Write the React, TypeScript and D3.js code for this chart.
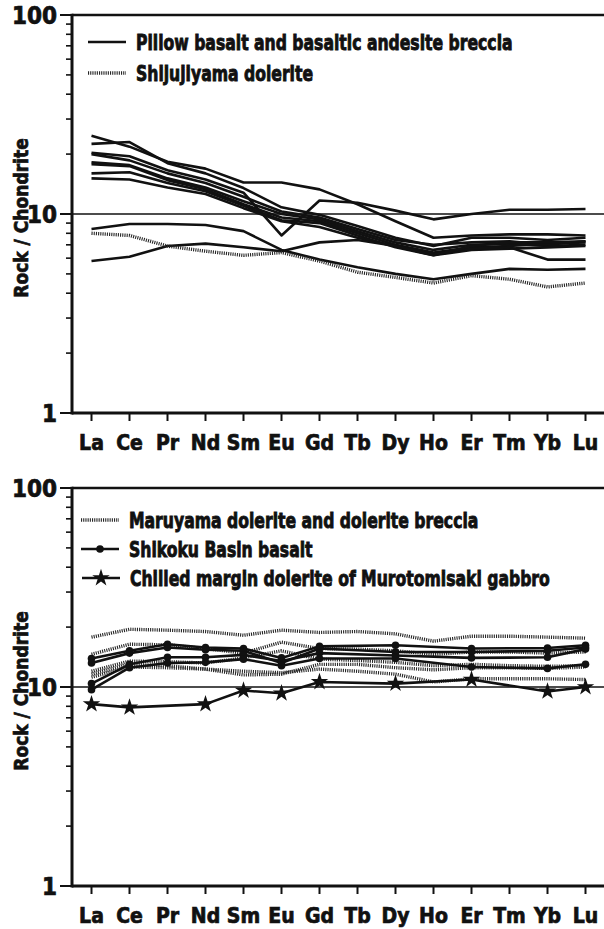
import React from "react";
import * as d3 from "d3";

const ELEMENTS = ["La", "Ce", "Pr", "Nd", "Sm", "Eu", "Gd", "Tb", "Dy", "Ho", "Er", "Tm", "Yb", "Lu"];
const Y_TICKS = [1, 10, 100];

// Top panel: pillow basalt and basaltic andesite breccia (solid)
const pillow1 = [24.7, 21.8, 18.3, 16.9, 14.4, 14.4, 13.3, 11.2, 9.2, 7.6, 7.8, 7.9, 7.9, 7.8];
const pillow2 = [22.5, 23.0, 18.0, 16.0, 13.5, 10.8, 9.9, 8.7, 7.6, 6.9, 7.6, 7.6, 7.4, 7.6];
const pillow3 = [20.3, 19.5, 16.6, 14.9, 12.8, 7.8, 11.7, 11.4, 10.4, 9.4, 10.0, 10.5, 10.5, 10.6];
const pillow4 = [20.0, 18.6, 16.0, 14.3, 12.2, 10.3, 9.6, 8.4, 7.4, 7.0, 7.2, 7.3, 7.0, 7.3];
const pillow5 = [18.2, 17.6, 15.1, 13.6, 11.6, 10.0, 9.4, 8.2, 7.2, 6.6, 7.0, 7.1, 6.9, 7.0];
const pillow6 = [17.8, 17.4, 14.8, 13.3, 11.2, 9.6, 9.2, 8.0, 7.0, 6.4, 6.8, 6.9, 7.1, 7.2];
const pillow7 = [16.0, 16.2, 14.3, 13.0, 11.0, 9.3, 9.0, 7.8, 6.8, 6.2, 6.6, 6.7, 6.8, 6.9];
const pillow8 = [15.1, 14.9, 13.6, 12.6, 10.7, 9.2, 8.6, 7.6, 6.9, 6.3, 6.7, 6.8, 5.9, 5.9];
const pillow9 = [5.8, 6.1, 6.9, 7.1, 6.8, 6.5, 7.2, 7.4, 6.9, 6.2, 6.9, 7.2, 7.2, 7.3];
const pillow10 = [8.4, 8.9, 8.9, 8.8, 8.2, 6.6, 5.9, 5.4, 5.0, 4.7, 5.0, 5.3, 5.25, 5.3];
// Shijujiyama dolerite (dotted)
const shijujiyama = [8.0, 7.8, 6.9, 6.5, 6.2, 6.4, 5.8, 5.1, 4.8, 4.5, 4.9, 4.7, 4.3, 4.5];

// Bottom panel: Maruyama dolerite and dolerite breccia (dotted)
const maruyama1 = [17.8, 19.5, 19.3, 19.0, 18.2, 19.3, 18.8, 19.0, 18.5, 17.0, 18.0, 18.0, 17.8, 17.6];
const maruyama2 = [14.6, 16.4, 16.3, 15.6, 14.8, 16.8, 15.6, 15.5, 15.2, 14.6, 15.0, 15.0, 14.8, 15.0];
const maruyama3 = [12.0, 13.5, 13.4, 13.2, 14.0, 15.2, 13.8, 13.6, 13.3, 12.8, 13.0, 12.8, 12.7, 12.8];
const maruyama4 = [11.6, 13.0, 12.8, 12.3, 11.5, 11.6, 13.0, 13.0, 12.5, 12.2, 12.5, 12.5, 12.4, 12.6];
const maruyama5 = [11.2, 12.6, 12.5, 12.3, 12.0, 11.8, 12.3, 12.0, 11.6, 10.6, 11.0, 11.0, 11.0, 10.9];
// Shikoku Basin basalt (solid with dots), null = not analysed
const shikoku1 = [13.9, 15.2, 16.4, 15.8, 15.6, 14.0, 16.0, null, 16.2, null, 15.6, null, 15.7, 16.2];
const shikoku2 = [13.2, 14.8, 15.8, 15.4, 15.2, 13.2, 15.6, null, 15.0, null, 15.0, null, 15.2, 15.8];
const shikoku3 = [10.4, 13.0, 14.1, 14.1, 14.5, 13.5, 14.8, null, 14.4, null, 14.0, null, 14.1, 15.5];
const shikoku4 = [9.7, 12.5, 13.2, 13.3, 13.8, 12.8, 13.9, null, 13.9, null, 12.6, null, 12.4, 13.0];
// Chilled margin dolerite of Murotomisaki gabbro (solid with stars)
const chilled = [8.2, 7.9, null, 8.2, 9.6, 9.3, 10.6, null, 10.4, null, 10.9, null, 9.5, 10.0];

const TOP_LEGEND = ["Pillow basalt and basaltic andesite breccia", "Shijujiyama dolerite"];
const BOTTOM_LEGEND = [
  "Maruyama dolerite and dolerite breccia",
  "Shikoku Basin basalt",
  "Chilled margin dolerite of Murotomisaki gabbro",
];
const Y_TITLE = "Rock / Chondrite";

const FONT = "'Liberation Sans Narrow', 'DejaVu Sans Condensed', 'Arial Narrow', 'Liberation Sans', sans-serif";
const INK = "#111";
const W = 604;
const H = 929;
const LEFT = 72;
const RIGHT = 603;
const PLOT_H = 398;

type Series = { values: (number | null)[]; style: "solid" | "dotted"; marker?: "dot" | "star" };
type LegendItem = { label: string; style: "solid" | "dotted"; marker?: "dot" | "star"; y: number; x: number };

const x = d3.scalePoint<string>().domain(ELEMENTS).range([91.5, 585.5]);
const starPath = d3.symbol().type(d3.symbolStar).size(95)() as string;

const boldText = {
  fontFamily: FONT,
  fontWeight: "bold" as const,
  fill: INK,
  stroke: INK,
  strokeWidth: 0.7,
};

function strokeFor(style: "solid" | "dotted") {
  return style === "dotted"
    ? { stroke: "#262626", strokeWidth: 3.4, strokeDasharray: "1.1 1.1" }
    : { stroke: INK, strokeWidth: 2.6 };
}

function Panel({ top, series, legend }: { top: number; series: Series[]; legend: LegendItem[] }) {
  const y = d3.scaleLog().domain([1, 100]).range([top + PLOT_H, top]);
  const minor: number[] = [];
  [1, 10].forEach((d) => {
    for (let k = 2; k <= 9; k++) minor.push(d * k);
  });
  const line = d3
    .line<{ e: string; v: number }>()
    .x((d) => x(d.e) as number)
    .y((d) => y(d.v));
  const bottom = top + PLOT_H;
  return (
    <g>
      <line x1={LEFT} x2={RIGHT + 1} y1={y(10)} y2={y(10)} stroke={INK} strokeWidth={1.6} />
      {series.map((s, i) => {
        const pts = ELEMENTS.map((e, j) => ({ e, v: s.values[j] as number })).filter((p) => p.v != null);
        return (
          <g key={i}>
            <path d={line(pts) as string} fill="none" strokeLinejoin="round" {...strokeFor(s.style)} />
            {s.marker === "dot" &&
              pts.map((p, k) => <circle key={k} cx={x(p.e)} cy={y(p.v)} r={3.8} fill={INK} />)}
            {s.marker === "star" &&
              pts.map((p, k) => (
                <path key={k} d={starPath} transform={`translate(${x(p.e)},${y(p.v)})`} fill={INK} />
              ))}
          </g>
        );
      })}
      <line x1={LEFT} x2={RIGHT + 1} y1={top} y2={top} stroke={INK} strokeWidth={2.6} />
      <line x1={LEFT} x2={LEFT} y1={top - 1.3} y2={bottom + 1.5} stroke={INK} strokeWidth={3} />
      <line x1={LEFT} x2={RIGHT + 1} y1={bottom} y2={bottom} stroke={INK} strokeWidth={3} />
      {Y_TICKS.map((t) => (
        <g key={t}>
          <line x1={60} x2={LEFT} y1={y(t)} y2={y(t)} stroke={INK} strokeWidth={2} />
          <text x={57} y={y(t) + 8.5} textAnchor="end" fontSize={24} {...boldText}>
            {t}
          </text>
        </g>
      ))}
      {minor.map((t) => (
        <line key={t} x1={66} x2={LEFT} y1={y(t)} y2={y(t)} stroke={INK} strokeWidth={1.6} />
      ))}
      {ELEMENTS.map((e) => (
        <g key={e}>
          <line x1={x(e)} x2={x(e)} y1={bottom} y2={bottom + 8} stroke={INK} strokeWidth={2} />
          <text x={x(e)} y={bottom + 37} textAnchor="middle" fontSize={21} {...boldText}>
            {e}
          </text>
        </g>
      ))}
      <text
        transform={`translate(28,${y(10) + 4}) rotate(-90)`}
        textAnchor="middle"
        fontSize={19}
        {...boldText}
      >
        {Y_TITLE}
      </text>
      {legend.map((l, i) => (
        <g key={i}>
          <line x1={l.x - 48} x2={l.x - 10} y1={l.y} y2={l.y} {...strokeFor(l.style)} />
          {l.marker === "dot" && <circle cx={l.x - 29} cy={l.y} r={3.8} fill={INK} />}
          {l.marker === "star" && <path d={starPath} transform={`translate(${l.x - 29},${l.y})`} fill={INK} />}
          <text transform={`translate(${l.x},${l.y + 7.5}) scale(1,1.22)`} fontSize={17.4} {...boldText}>
            {l.label}
          </text>
        </g>
      ))}
    </g>
  );
}

export default function App() {
  const topSeries: Series[] = [
    ...[pillow1, pillow2, pillow3, pillow4, pillow5, pillow6, pillow7, pillow8, pillow9, pillow10].map(
      (v) => ({ values: v, style: "solid" as const })
    ),
    { values: shijujiyama, style: "dotted" },
  ];
  const bottomSeries: Series[] = [
    ...[maruyama1, maruyama2, maruyama3, maruyama4, maruyama5].map((v) => ({ values: v, style: "dotted" as const })),
    ...[shikoku1, shikoku2, shikoku3, shikoku4].map((v) => ({ values: v, style: "solid" as const, marker: "dot" as const })),
    { values: chilled, style: "solid", marker: "star" },
  ];
  const topLegend: LegendItem[] = [
    { label: TOP_LEGEND[0], style: "solid", y: 42, x: 136 },
    { label: TOP_LEGEND[1], style: "dotted", y: 73, x: 136 },
  ];
  const bottomLegend: LegendItem[] = [
    { label: BOTTOM_LEGEND[0], style: "dotted", y: 520, x: 129 },
    { label: BOTTOM_LEGEND[1], style: "solid", marker: "dot", y: 549, x: 129 },
    { label: BOTTOM_LEGEND[2], style: "solid", marker: "star", y: 578, x: 130 },
  ];
  return (
    <svg width={W} height={H} style={{ position: "absolute", left: 0, top: 0, background: "#fff" }}>
      <rect width={W} height={H} fill="#fff" />
      <Panel top={15} series={topSeries} legend={topLegend} />
      <Panel top={488} series={bottomSeries} legend={bottomLegend} />
    </svg>
  );
}
